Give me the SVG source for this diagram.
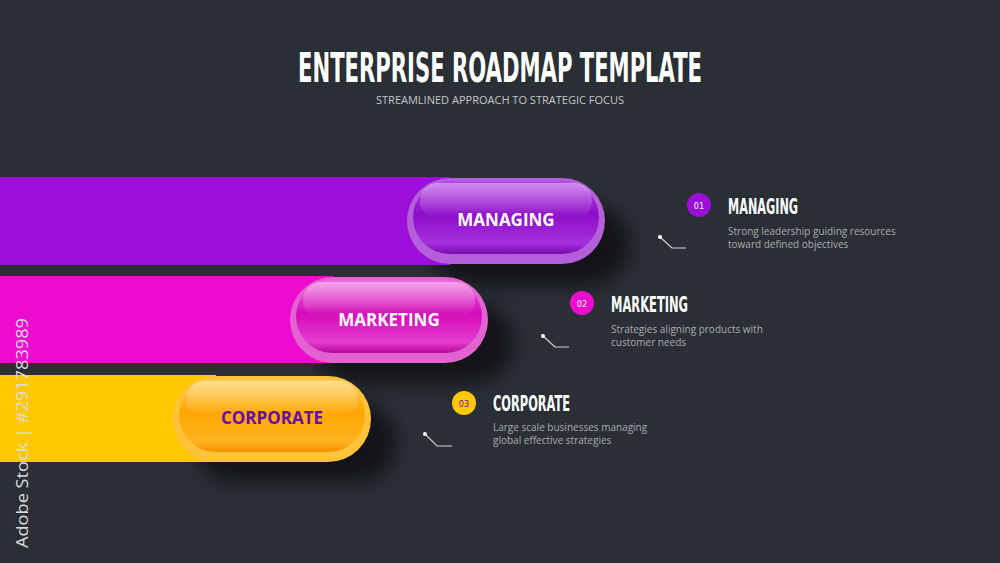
<svg xmlns="http://www.w3.org/2000/svg" width="1000" height="563" viewBox="0 0 1000 563">
<defs>
<style>
.title{font-family:"DejaVu Sans Condensed","DejaVu Sans",sans-serif;font-weight:bold;fill:#ffffff}
.sub{font-family:"Open Sans","Liberation Sans",sans-serif;font-size:10.5px;fill:#c4c6c9}
.pilltxt{font-family:"Open Sans","Liberation Sans",sans-serif;font-weight:bold;font-size:17px;text-anchor:middle}
.head{font-family:"DejaVu Sans Condensed","DejaVu Sans",sans-serif;font-weight:bold;font-size:22px;fill:#ffffff}
.desc{font-family:"Open Sans","Liberation Sans",sans-serif;font-size:10px;fill:#a9acb0}
.num{font-family:"DejaVu Sans Condensed","DejaVu Sans",sans-serif;font-size:9px;text-anchor:middle}
.conn{fill:none;stroke:#cfd1d4;stroke-width:1.2}
.dot{fill:#ffffff}
</style>
<filter id="shadow" x="-30%" y="-30%" width="160%" height="180%">
<feGaussianBlur stdDeviation="9"/>
</filter>
<linearGradient id="gP" x1="0" y1="0" x2="0" y2="1">
<stop offset="0" stop-color="#b848ea"/><stop offset="0.45" stop-color="#8c0cc8"/><stop offset="0.85" stop-color="#a630de"/><stop offset="1" stop-color="#7a0ab2"/>
</linearGradient>
<linearGradient id="gM" x1="0" y1="0" x2="0" y2="1">
<stop offset="0" stop-color="#f070e0"/><stop offset="0.45" stop-color="#d40ab8"/><stop offset="0.85" stop-color="#e43cd0"/><stop offset="1" stop-color="#b8089e"/>
</linearGradient>
<linearGradient id="gY" x1="0" y1="0" x2="0" y2="1">
<stop offset="0" stop-color="#ffcc50"/><stop offset="0.45" stop-color="#ffa600"/><stop offset="0.85" stop-color="#ffb420"/><stop offset="1" stop-color="#f09000"/>
</linearGradient>
<linearGradient id="gHi" x1="0" y1="0" x2="0" y2="1">
<stop offset="0" stop-color="#ffffff" stop-opacity="0.38"/><stop offset="1" stop-color="#ffffff" stop-opacity="0"/>
</linearGradient>
</defs>
<rect width="1000" height="563" fill="#2a2e35"/>

<g id="header">
<text class="title" x="500" y="82" font-size="40" text-anchor="middle" textLength="404" lengthAdjust="spacingAndGlyphs">ENTERPRISE ROADMAP TEMPLATE</text>
<text class="sub" x="500" y="104" text-anchor="middle" textLength="248" lengthAdjust="spacingAndGlyphs">STREAMLINED APPROACH TO STRATEGIC FOCUS</text>
</g>

<g id="bar-managing">
<rect x="430" y="205" width="200" height="80" rx="40" fill="#000" opacity="0.55" filter="url(#shadow)"/>
<rect x="0" y="177" width="450" height="88" fill="#9b0fd8"/>
<rect x="407" y="178" width="198" height="86" rx="43" fill="#b45fda"/>
<rect x="413" y="181" width="186" height="73" rx="36.5" fill="url(#gP)"/>
<rect x="420" y="183" width="172" height="36" rx="18" fill="url(#gHi)"/>
<text class="pilltxt" x="506" y="226" fill="#ffffff">MANAGING</text>
</g>

<g id="bar-marketing">
<rect x="313" y="303" width="200" height="80" rx="40" fill="#000" opacity="0.55" filter="url(#shadow)"/>
<rect x="0" y="276" width="333" height="87" fill="#ee0bd0"/>
<rect x="290" y="277" width="198" height="86" rx="43" fill="#e262d2"/>
<rect x="296" y="280" width="186" height="73" rx="36.5" fill="url(#gM)"/>
<rect x="303" y="282" width="172" height="36" rx="18" fill="url(#gHi)"/>
<text class="pilltxt" x="389" y="326" fill="#ffffff">MARKETING</text>
</g>

<g id="bar-corporate">
<rect x="196" y="402" width="200" height="80" rx="40" fill="#000" opacity="0.55" filter="url(#shadow)"/>
<rect x="0" y="375" width="216" height="87" fill="#ffc800"/>
<rect x="173" y="376" width="198" height="86" rx="43" fill="#ffc23a"/>
<rect x="179" y="379" width="186" height="73" rx="36.5" fill="url(#gY)"/>
<rect x="186" y="381" width="172" height="36" rx="18" fill="url(#gHi)"/>
<text class="pilltxt" x="272" y="424" fill="#6a0aa2">CORPORATE</text>
</g>

<g id="item-01">
<circle cx="699" cy="205" r="12" fill="#9b0fd8"/>
<text class="num" x="699" y="208.5" fill="#ffffff">01</text>
<text class="head" x="728" y="214" textLength="70" lengthAdjust="spacingAndGlyphs">MANAGING</text>
<text class="desc" x="728" y="235">Strong leadership guiding resources</text>
<text class="desc" x="728" y="248">toward defined objectives</text>
</g>

<g id="item-02">
<circle cx="582" cy="303" r="12" fill="#ee0bd0"/>
<text class="num" x="582" y="306.5" fill="#ffffff">02</text>
<text class="head" x="611" y="312" textLength="77" lengthAdjust="spacingAndGlyphs">MARKETING</text>
<text class="desc" x="611" y="333">Strategies aligning products with</text>
<text class="desc" x="611" y="346">customer needs</text>
</g>

<g id="item-03">
<circle cx="464" cy="403" r="12" fill="#ffc800"/>
<text class="num" x="464" y="406.5" fill="#7a0aa8">03</text>
<text class="head" x="493" y="411" textLength="77" lengthAdjust="spacingAndGlyphs">CORPORATE</text>
<text class="desc" x="493" y="431">Large scale businesses managing</text>
<text class="desc" x="493" y="444">global effective strategies</text>
</g>

<g id="connectors">
<polyline class="conn" points="660,237 672,248 686,248"/>
<circle class="dot" cx="660" cy="237" r="2"/>
<polyline class="conn" points="543,336 555,347 569,347"/>
<circle class="dot" cx="543" cy="336" r="2"/>
<polyline class="conn" points="425,434 437,446 452,446"/>
<circle class="dot" cx="425" cy="434" r="2"/>
</g>

<text x="28" y="548" transform="rotate(-90 28 548)" font-family="Open Sans, Liberation Sans, sans-serif" font-size="17" fill="#dcdcdc" textLength="230" lengthAdjust="spacingAndGlyphs">Adobe Stock | #291783989</text>
</svg>
